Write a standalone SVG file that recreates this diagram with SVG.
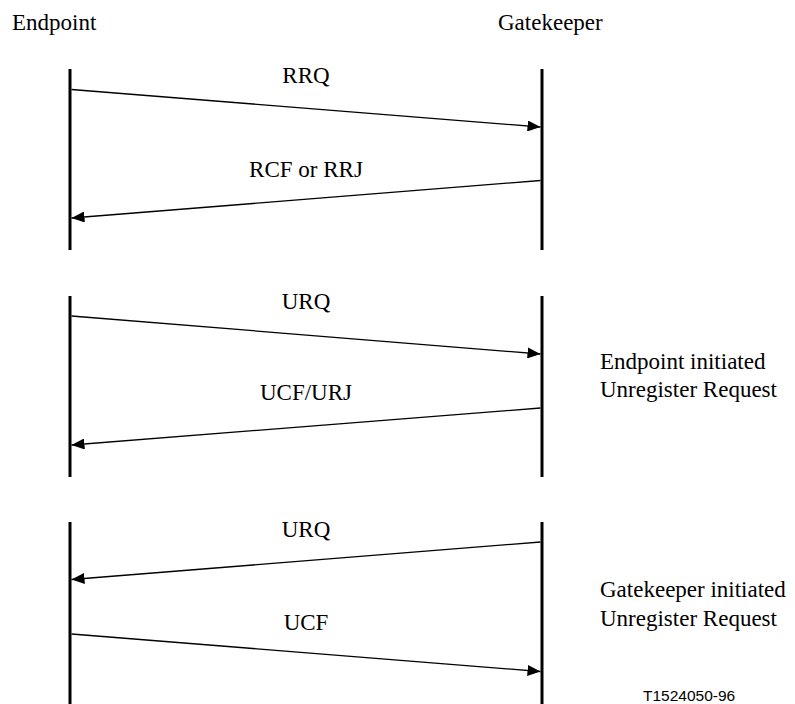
<svg xmlns="http://www.w3.org/2000/svg" width="795" height="704" viewBox="0 0 795 704">
  <style>
    .t { font-family: "Liberation Serif", "Times New Roman", serif; font-size: 23px; fill: #000; }
    .c { text-anchor: middle; }
    .ref { font-family: "Liberation Sans", Arial, sans-serif; font-size: 15.5px; fill: #000; }
    .life { stroke: #000; stroke-width: 3; fill: none; }
    .msg { stroke: #000; stroke-width: 1.3; fill: none; marker-end: url(#ah); }
  </style>
  <defs>
    <marker id="ah" viewBox="0 0 13 11" refX="13" refY="5.5" markerWidth="13" markerHeight="11" markerUnits="userSpaceOnUse" orient="auto">
      <path d="M0,0 L13,5.5 L0,11 z" fill="#000"/>
    </marker>
  </defs>
  <rect width="795" height="704" fill="#fff"/>

  <g id="endpoint">
    <text class="t" x="12" y="30">Endpoint</text>
    <line class="life" x1="70" y1="69" x2="70" y2="250"/>
    <line class="life" x1="70" y1="296" x2="70" y2="477"/>
    <line class="life" x1="70" y1="522" x2="70" y2="704"/>
  </g>

  <g id="gatekeeper">
    <text class="t" x="498" y="30">Gatekeeper</text>
    <line class="life" x1="542" y1="69" x2="542" y2="250"/>
    <line class="life" x1="542" y1="296" x2="542" y2="477"/>
    <line class="life" x1="542" y1="522" x2="542" y2="704"/>
  </g>

  <g id="connectors">
    <line class="msg" x1="71.5" y1="89.5" x2="540.5" y2="127"/>
    <line class="msg" x1="540.5" y1="180.5" x2="71.5" y2="218"/>
    <line class="msg" x1="71.5" y1="316" x2="540.5" y2="354"/>
    <line class="msg" x1="540.5" y1="408" x2="71.5" y2="445"/>
    <line class="msg" x1="540.5" y1="542" x2="71.5" y2="579.5"/>
    <line class="msg" x1="71.5" y1="634" x2="540.5" y2="671.5"/>
  </g>

  <g id="labels">
    <text class="t c" x="306" y="83">RRQ</text>
    <text class="t c" x="306" y="177">RCF or RRJ</text>
    <text class="t c" x="306" y="309">URQ</text>
    <text class="t c" x="306" y="400">UCF/URJ</text>
    <text class="t c" x="306" y="537">URQ</text>
    <text class="t c" x="306" y="630">UCF</text>
  </g>

  <g id="note-endpoint">
    <text class="t" x="600" y="369">Endpoint initiated</text>
    <text class="t" x="600" y="397">Unregister Request</text>
  </g>

  <g id="note-gatekeeper">
    <text class="t" x="600" y="597">Gatekeeper initiated</text>
    <text class="t" x="600" y="626">Unregister Request</text>
  </g>

  <text class="ref" x="643" y="701">T1524050-96</text>
</svg>
